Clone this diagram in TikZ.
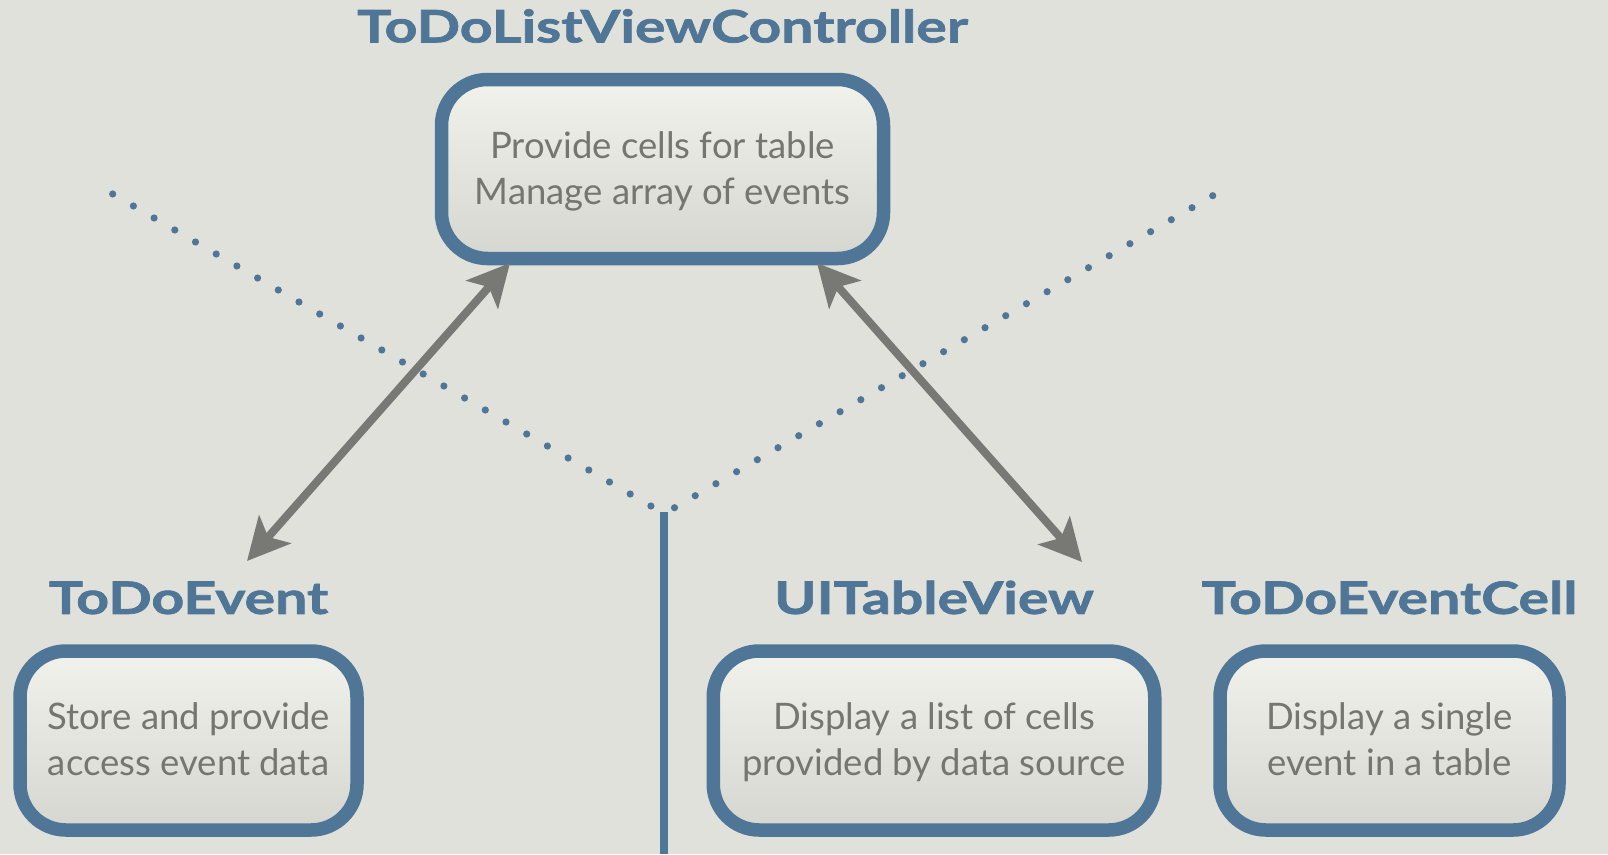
\documentclass[tikz,border=0pt]{standalone}
\usepackage{fontspec}
\setmainfont{Lato}
\newfontfamily\namefont{Lato}[FakeStretch=1.28, FakeBold=1.6]
\usetikzlibrary{arrows.meta,positioning,calc}
\definecolor{pagebg}{RGB}{224,225,218}
\definecolor{steelblue}{RGB}{79,118,151}
\definecolor{boxtop}{RGB}{241,242,236}
\definecolor{boxbot}{RGB}{213,214,207}
\definecolor{inkgray}{RGB}{118,118,113}
\definecolor{arrowgray}{RGB}{120,120,116}
\tikzset{
  classbox/.style={draw=steelblue, line width=13.5pt, rounded corners=46pt,
    top color=boxtop, bottom color=boxbot, minimum height=179pt, inner sep=0pt,
    text=inkgray, font=\fontsize{36.5}{46}\selectfont, align=center,
    text height=78.5pt, text depth=8pt},
  classname/.style={text=steelblue, font=\namefont\bfseries\fontsize{44.7}{50}\selectfont,
    inner sep=0pt, outer sep=0pt},
  link/.style={draw=arrowgray, line width=8pt,
    {Stealth[length=42pt,width=42pt,inset=10pt]}-{Stealth[length=42pt,width=42pt,inset=10pt]}}
}
\begin{document}
\begin{tikzpicture}[x=1pt, y=-1pt]
  \useasboundingbox[fill=pagebg] (0,0) rectangle (1608,854);
  % boxes
  \node[classbox, minimum width=442pt] (ctrl) at (662.5,169) {Provide cells for table\\Manage array of events};
  \node[classbox, minimum width=337pt] (evt) at (188.5,740.5) {Store and provide\\access event data};
  \node[classbox, minimum width=441.5pt] (table) at (934,740.5) {Display a list of cells\\provided by data source};
  \node[classbox, minimum width=339pt] (cell) at (1389.5,740.5) {Display a single\\event in a table};
  % class names
  \node[classname, above=30pt of ctrl] (ctrlname) {ToDoListViewController};
  \node[classname, above=30pt of evt] (evtname) {ToDoEvent};
  \node[classname, above=30pt of table] (tablename) {UITableView};
  \node[classname, above=30pt of cell] (cellname) {ToDoEventCell};
  % dotted V
  \coordinate (dotL) at (112.7,194);
  \coordinate (dotLM) at (650.9,506);
  \coordinate (dotRM) at (674.5,507.7);
  \coordinate (dotR) at (1212.7,195.7);
  \foreach \k in {0,...,26} {
    \fill[steelblue] ($(dotL)!\k/26!(dotLM)$) circle (3.6pt);
    \fill[steelblue] ($(dotR)!\k/26!(dotRM)$) circle (3.6pt);
  }
  % stem
  \coordinate (stem) at (664,512);
  \draw[steelblue, line width=8pt] (stem) -- (stem |- 0,854);
  % associations
  \coordinate (ctrlL) at (510,263);
  \coordinate (ctrlR) at (817,263);
  \coordinate (evtend) at (247,561);
  \coordinate (tableend) at (1082,562);
  \draw[link] (evtend) -- (ctrlL);
  \draw[link] (tableend) -- (ctrlR);
\end{tikzpicture}
\end{document}
